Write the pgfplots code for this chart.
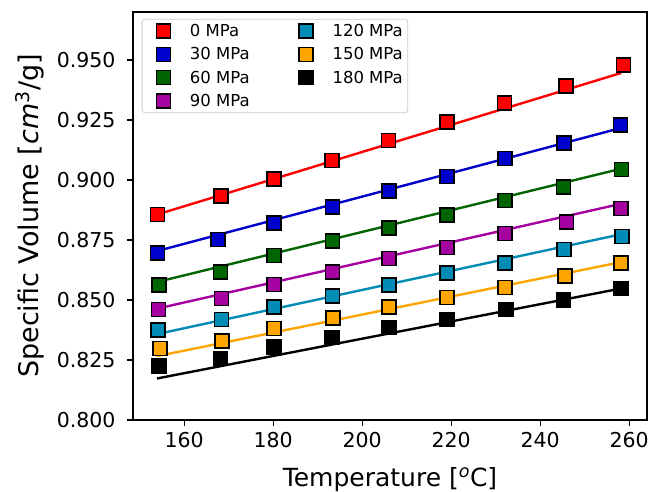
\documentclass[border=0pt]{standalone}
\usepackage{pgfplots}
\pgfplotsset{compat=1.18}
\usepackage{fontspec}
\setmainfont{DejaVu Sans}

\definecolor{cRed}{RGB}{255,0,0}
\definecolor{cBlue}{RGB}{0,0,205}
\definecolor{cGreen}{RGB}{0,100,0}
\definecolor{cPurple}{RGB}{165,0,160}
\definecolor{cCyan}{RGB}{0,140,180}
\definecolor{cOrange}{RGB}{255,165,0}
\definecolor{cBlack}{RGB}{0,0,0}

\pgfplotsset{
  fitline/.style={forget plot, line width=2.4pt},
  pts/.style={forget plot, only marks, mark=square*, mark size=7pt,
    draw=black, line width=1.6pt, mark options={fill=#1}},
  leg/.style={legend image code/.code={
      \path (-10pt,0pt) (32pt,0pt);
      \node[draw=black, line width=1.6pt, fill=#1, minimum size=14pt,
        inner sep=0pt, sharp corners] at (0pt,0pt) {};}},
}

\begin{document}
\begin{tikzpicture}
\useasboundingbox (-133pt,-72pt) rectangle (518pt,420pt);
\begin{axis}[
  scale only axis, width=514pt, height=408pt,
  xmin=148.5, xmax=264, ymin=0.800, ymax=0.97,
  xtick={160,180,200,220,240,260},
  ytick={0.800,0.825,0.850,0.875,0.900,0.925,0.950},
  scaled y ticks=false,
  yticklabel style={xshift=-8pt, /pgf/number format/.cd, fixed, fixed zerofill, precision=3},
  /pgf/number format/assume math mode=true,
  tick align=outside, xtick pos=left, ytick pos=left,
  major tick length=6pt,
  every tick/.style={black, line width=1.2pt},
  axis line style={line width=1.2pt},
  tick label style={font=\fontsize{20.5}{24}\selectfont},
  xticklabel style={yshift=-3pt},
  xlabel={Temperature [\textsuperscript{\textit{o}}C]},
  ylabel={Specific Volume [\textit{cm}\textsuperscript{3}/g]},
  xlabel style={font=\fontsize{25}{30}\selectfont, at={(axis description cs:0.5,0)}, anchor=base, yshift=-67pt},
  ylabel style={font=\fontsize{27}{32}\selectfont, at={(axis description cs:0,0.5)}, anchor=north, inner sep=0pt, yshift=118pt},
  legend columns=2,
  legend cell align=left,
  legend style={at={(axis description cs:0.017,0.983)}, anchor=north west,
    draw=black!20, line width=0.8pt, rounded corners=3pt,
    font=\fontsize{16.5}{19}\selectfont, inner sep=3pt,
    /tikz/every even column/.append style={column sep=36pt},
    row sep=5.5pt},
]
\addlegendimage{leg=cRed}\addlegendentry{0 MPa}
\addlegendimage{leg=cCyan}\addlegendentry{120 MPa}
\addlegendimage{leg=cBlue}\addlegendentry{30 MPa}
\addlegendimage{leg=cOrange}\addlegendentry{150 MPa}
\addlegendimage{leg=cGreen}\addlegendentry{60 MPa}
\addlegendimage{leg=cBlack}\addlegendentry{180 MPa}
\addlegendimage{leg=cPurple}\addlegendentry{90 MPa}

% 0 MPa
\addplot[fitline, cRed] coordinates {(153.9,0.8856) (258.2,0.9446)};
\addplot[pts=cRed] coordinates {(154.0,0.8856) (168.3,0.8933) (180.2,0.9005)
  (193.2,0.9082) (205.9,0.9165) (219.1,0.9241) (232.0,0.9320) (245.8,0.9391) (258.7,0.9480)};
% 30 MPa
\addplot[fitline, cBlue] coordinates {(153.9,0.8704) (258.2,0.9217)};
\addplot[pts=cBlue] coordinates {(154.0,0.8696) (167.6,0.8752) (180.2,0.8821)
  (193.3,0.8887) (206.0,0.8954) (219.1,0.9015) (232.1,0.9089) (245.3,0.9153) (258.0,0.9230)};
% 60 MPa
\addplot[fitline, cGreen] coordinates {(153.9,0.8575) (258.2,0.9047)};
\addplot[pts=cGreen] coordinates {(154.4,0.8562) (168.2,0.8617) (180.2,0.8686)
  (193.3,0.8745) (206.0,0.8800) (219.1,0.8853) (232.1,0.8915) (245.2,0.8970) (258.3,0.9043)};
% 90 MPa
\addplot[fitline, cPurple] coordinates {(153.9,0.8464) (258.2,0.8901)};
\addplot[pts=cPurple] coordinates {(154.2,0.8460) (168.4,0.8506) (180.2,0.8564)
  (193.3,0.8617) (206.0,0.8673) (219.1,0.8718) (232.1,0.8777) (245.9,0.8825) (258.2,0.8881)};
% 120 MPa
\addplot[fitline, cCyan] coordinates {(153.9,0.8358) (258.2,0.8774)};
\addplot[pts=cCyan] coordinates {(154.1,0.8374) (168.4,0.8419) (180.2,0.8471)
  (193.3,0.8517) (206.0,0.8562) (219.1,0.8613) (232.1,0.8654) (245.3,0.8710) (258.4,0.8765)};
% 150 MPa
\addplot[fitline, cOrange] coordinates {(153.9,0.8266) (258.2,0.8658)};
\addplot[pts=cOrange] coordinates {(154.6,0.8298) (168.5,0.8330) (180.2,0.8381)
  (193.4,0.8426) (206.0,0.8471) (219.1,0.8510) (232.1,0.8552) (245.6,0.8599) (258.2,0.8654)};
% 180 MPa
\addplot[fitline, cBlack] coordinates {(153.9,0.8173) (258.2,0.8548)};
\addplot[pts=cBlack] coordinates {(154.4,0.8226) (168.2,0.8256) (180.2,0.8305)
  (193.2,0.8344) (206.0,0.8386) (219.1,0.8419) (232.3,0.8460) (245.2,0.8499) (258.2,0.8548)};
\end{axis}
\end{tikzpicture}
\end{document}
